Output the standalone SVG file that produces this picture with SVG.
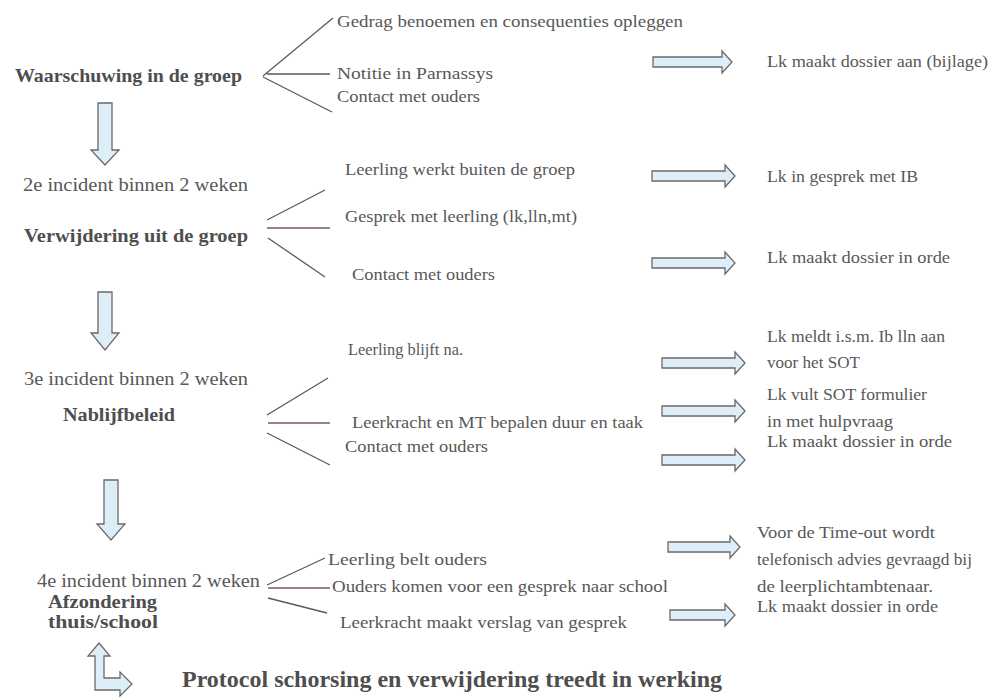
<svg xmlns="http://www.w3.org/2000/svg" width="991" height="699" viewBox="0 0 991 699">
<style>
text{font-family:"Liberation Serif","DejaVu Serif",serif;fill:#585858;font-size:17.5px}
.b{font-weight:bold;font-size:19px;fill:#4e4e4e}
.m{font-size:18px}
.big{font-weight:bold;font-size:24px;fill:#4e4e4e}
.arr{fill:#ddeef8;stroke:#6a6a6a;stroke-width:1.3;stroke-linejoin:miter}
.ln{stroke:#5a5a5a;stroke-width:1.3;fill:none}
.lr{stroke:#7a5860;stroke-width:1.6;fill:none}
</style>
<rect width="991" height="699" fill="#ffffff"/>

<g id="connectors">
  <path class="ln" d="M263 76 L333 18 M267 74 L330 74 M263 77 L332 112"/>
  <path class="ln" d="M267 220 L325 190 M268 238 L325 277"/>
  <path class="lr" d="M267 228 L330 228"/>
  <path class="ln" d="M267 415 L328 378 M267 433 L330 465"/>
  <path class="lr" d="M268 423 L330 423"/>
  <path class="ln" d="M267 585 L325 558 M268 598 L327 613"/>
  <path class="lr" d="M268 588 L330 588"/>
  <path class="arr" d="M98 103 H112 V150 H119 L105 165 L91 150 H98 Z"/>
  <path class="arr" d="M98 292 H112 V333 H119 L105 350 L91 333 H98 Z"/>
  <path class="arr" d="M104 480 H118 V524 H125 L111 540 L97 524 H104 Z"/>
  <path class="arr" d="M653 57 H722 V51 L732 62 L722 73 V67 H653 Z"/>
  <path class="arr" d="M652 171 H725 V165 L735 176 L725 187 V181 H652 Z"/>
  <path class="arr" d="M652 258 H725 V252 L735 263 L725 274 V268 H652 Z"/>
  <path class="arr" d="M662 358 H735 V352 L745 363 L735 374 V368 H662 Z"/>
  <path class="arr" d="M662 406 H735 V400 L745 411 L735 422 V416 H662 Z"/>
  <path class="arr" d="M662 455 H735 V449 L745 460 L735 471 V465 H662 Z"/>
  <path class="arr" d="M668 542 H730 V536 L740 547 L730 558 V552 H668 Z"/>
  <path class="arr" d="M670 610 H725 V604 L735 615 L725 626 V620 H670 Z"/>
  <path class="arr" d="M99 643 L110 656 H104 V678 H120 V672 L132 684 L120 696 V690 H95 V656 H88 Z"/>
</g>

<g id="step1">
  <text class="b" x="15" y="82" textLength="227" lengthAdjust="spacingAndGlyphs">Waarschuwing in de groep</text>
</g>
<g id="step1-actions">
  <text x="337" y="27" textLength="346" lengthAdjust="spacingAndGlyphs">Gedrag benoemen en consequenties opleggen</text>
  <text x="337" y="79" textLength="156" lengthAdjust="spacingAndGlyphs">Notitie in Parnassys</text>
  <text x="337" y="102" textLength="143" lengthAdjust="spacingAndGlyphs">Contact met ouders</text>
</g>
<g id="step1-result">
  <text x="767" y="67" textLength="221" lengthAdjust="spacingAndGlyphs">Lk maakt dossier aan (bijlage)</text>
</g>

<g id="step2">
  <text class="m" x="23" y="191" textLength="225" lengthAdjust="spacingAndGlyphs">2e incident binnen 2 weken</text>
  <text class="b" x="24" y="242" textLength="224" lengthAdjust="spacingAndGlyphs">Verwijdering uit de groep</text>
</g>
<g id="step2-actions">
  <text x="345" y="175" textLength="230" lengthAdjust="spacingAndGlyphs">Leerling werkt buiten de groep</text>
  <text x="345" y="222" textLength="232" lengthAdjust="spacingAndGlyphs">Gesprek met leerling (lk,lln,mt)</text>
  <text x="352" y="280" textLength="143" lengthAdjust="spacingAndGlyphs">Contact met ouders</text>
</g>
<g id="step2-results">
  <text x="767" y="182" textLength="151" lengthAdjust="spacingAndGlyphs">Lk in gesprek met IB</text>
  <text x="767" y="263" textLength="183" lengthAdjust="spacingAndGlyphs">Lk maakt dossier in orde</text>
</g>

<g id="step3">
  <text class="m" x="24" y="385" textLength="224" lengthAdjust="spacingAndGlyphs">3e incident binnen 2 weken</text>
  <text class="b" x="63" y="421" textLength="112" lengthAdjust="spacingAndGlyphs">Nablijfbeleid</text>
</g>
<g id="step3-actions">
  <text x="348" y="355" textLength="115" lengthAdjust="spacingAndGlyphs">Leerling blijft na.</text>
  <text x="352" y="428" textLength="291" lengthAdjust="spacingAndGlyphs">Leerkracht en MT bepalen duur en taak</text>
  <text x="345" y="452" textLength="143" lengthAdjust="spacingAndGlyphs">Contact met ouders</text>
</g>
<g id="step3-results">
  <text x="767" y="342" textLength="178" lengthAdjust="spacingAndGlyphs">Lk meldt i.s.m. Ib lln aan</text>
  <text x="767" y="368" textLength="93" lengthAdjust="spacingAndGlyphs">voor het SOT</text>
  <text x="767" y="400" textLength="160" lengthAdjust="spacingAndGlyphs">Lk vult SOT formulier</text>
  <text x="767" y="427" textLength="126" lengthAdjust="spacingAndGlyphs">in met hulpvraag</text>
  <text x="767" y="447" textLength="185" lengthAdjust="spacingAndGlyphs">Lk maakt dossier in orde</text>
</g>

<g id="step4">
  <text class="m" x="37" y="587" textLength="223" lengthAdjust="spacingAndGlyphs">4e incident binnen 2 weken</text>
  <text class="b" x="48" y="608" textLength="109" lengthAdjust="spacingAndGlyphs">Afzondering</text>
  <text class="b" x="48" y="628" textLength="110" lengthAdjust="spacingAndGlyphs">thuis/school</text>
</g>
<g id="step4-actions">
  <text x="328" y="565" textLength="159" lengthAdjust="spacingAndGlyphs">Leerling belt ouders</text>
  <text x="332" y="592" textLength="336" lengthAdjust="spacingAndGlyphs">Ouders komen voor een gesprek naar school</text>
  <text x="340" y="628" textLength="287" lengthAdjust="spacingAndGlyphs">Leerkracht maakt verslag van gesprek</text>
</g>
<g id="step4-results">
  <text x="757" y="538" textLength="178" lengthAdjust="spacingAndGlyphs">Voor de Time-out wordt</text>
  <text x="757" y="565" textLength="215" lengthAdjust="spacingAndGlyphs">telefonisch advies gevraagd bij</text>
  <text x="757" y="592" textLength="176" lengthAdjust="spacingAndGlyphs">de leerplichtambtenaar.</text>
  <text x="757" y="612" textLength="181" lengthAdjust="spacingAndGlyphs">Lk maakt dossier in orde</text>
</g>

<g id="protocol">
  <text class="big" x="182" y="687" textLength="540" lengthAdjust="spacingAndGlyphs">Protocol schorsing en verwijdering treedt in werking</text>
</g>
</svg>
